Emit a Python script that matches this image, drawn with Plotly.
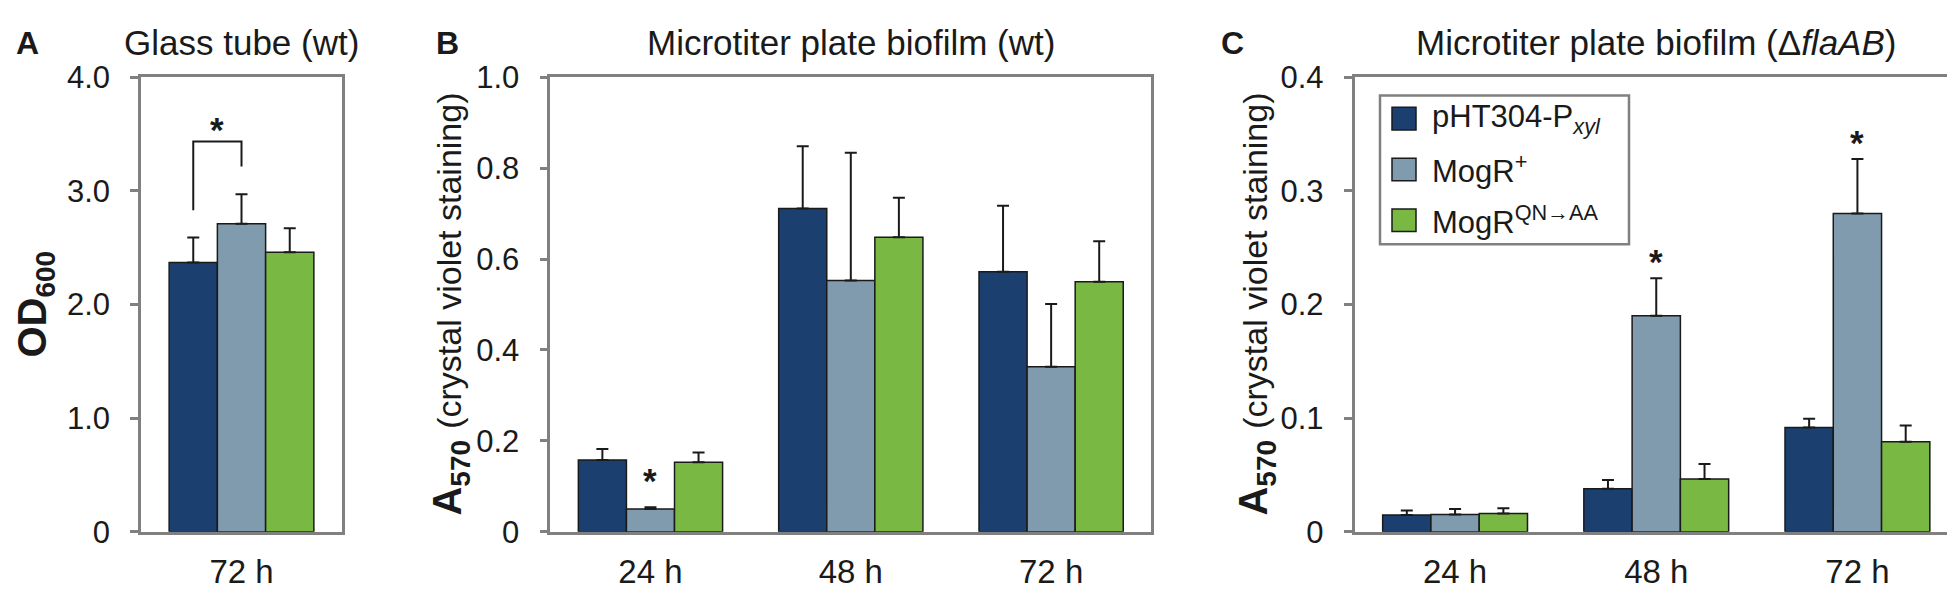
import plotly.graph_objects as go
from plotly.subplots import make_subplots

W, H = 1955, 596

strains = ["pHT304-P<sub><i>xyl</i></sub>", "MogR<sup>+</sup>", "MogR<sup>QN→AA</sup>"]
colors = ["#1B3F6F", "#7F9BAD", "#79B843"]

# panel A: glass tube (wt), 72 h only
times_a = ["72 h"]
glass_mean = [[2.37], [2.71], [2.46]]
glass_err = [[0.22], [0.26], [0.21]]

# panel B / C: microtiter plate
times = ["24 h", "48 h", "72 h"]
wt_mean = [[0.158, 0.711, 0.572], [0.050, 0.553, 0.363], [0.153, 0.648, 0.550]]
wt_err = [[0.024, 0.137, 0.145], [0.004, 0.281, 0.138], [0.021, 0.087, 0.089]]
fla_mean = [[0.0146, 0.0378, 0.0916], [0.0151, 0.190, 0.280], [0.0160, 0.0464, 0.0791]]
fla_err = [[0.0040, 0.0077, 0.0077], [0.0048, 0.033, 0.048], [0.0047, 0.0132, 0.0144]]

# significance marks
star_a = 3.60
bracket_a = [2.83, 3.435, 3.215]   # left leg bottom, top, right leg bottom
stars_b = [("24 h", 0.127)]
stars_c = [("48 h", 0.244), ("72 h", 0.349)]

y_ticks_a = [0, 1, 2, 3, 4]
y_text_a = ["0", "1.0", "2.0", "3.0", "4.0"]
y_ticks_b = [0, 0.2, 0.4, 0.6, 0.8, 1.0]
y_text_b = ["0", "0.2", "0.4", "0.6", "0.8", "1.0"]
y_ticks_c = [0, 0.1, 0.2, 0.3, 0.4]
y_text_c = ["0", "0.1", "0.2", "0.3", "0.4"]

FONT = "Liberation Sans, Arial, sans-serif"
INK = "#1a1a1a"
FRAME = "#808080"
BARGAP = 0.28


def px_x(p):
    return p / W


def px_y(p):
    return 1 - p / H


fig = make_subplots(rows=1, cols=3)

panels = [
    (1, times_a, glass_mean, glass_err),
    (2, times, wt_mean, wt_err),
    (3, times, fla_mean, fla_err),
]
for col, cats, means, errs in panels:
    for i in range(3):
        fig.add_trace(go.Bar(
            x=cats, y=means[i], name=strains[i],
            marker=dict(color=colors[i], line=dict(color=INK, width=1.5)),
            error_y=dict(type="data", symmetric=False, array=errs[i],
                         arrayminus=[0] * len(cats), color=INK, thickness=2, width=6),
            showlegend=False,
        ), row=1, col=col)

fig.update_layout(
    width=W, height=H,
    margin=dict(l=0, r=0, t=0, b=0),
    paper_bgcolor="white", plot_bgcolor="white",
    barmode="group", bargap=BARGAP, bargroupgap=0,
    font=dict(family=FONT, color=INK),
)

x_domains = [[133, 334], [542.3, 1143.3], [1346.5, 1950]]
y_dom = [px_y(538.3), px_y(55.5)]
ranges = [[0, 4], [0, 1], [0, 0.4]]
yt = [(y_ticks_a, y_text_a), (y_ticks_b, y_text_b), (y_ticks_c, y_text_c)]

for k in range(3):
    fig.update_xaxes(domain=[px_x(x_domains[k][0]), px_x(x_domains[k][1])],
                     showline=True, mirror=True, linecolor=FRAME, linewidth=2.5,
                     ticks="", showgrid=False, zeroline=False,
                     tickfont=dict(size=33, color=INK), ticklabelstandoff=9,
                     row=1, col=k + 1)
    fig.update_yaxes(domain=y_dom, range=ranges[k],
                     tickvals=yt[k][0], ticktext=yt[k][1],
                     showline=True, mirror=True, linecolor=FRAME, linewidth=2.5,
                     ticks="outside", ticklen=8, tickwidth=2.5, tickcolor=FRAME,
                     showgrid=False, zeroline=False,
                     tickfont=dict(size=31, color=INK), ticklabelstandoff=14,
                     row=1, col=k + 1)

# short inner tick stubs, so the ticks cross the left axis line
inner = {}
for k in range(3):
    base = "y" if k == 0 else f"y{k + 1}"
    inner[f"yaxis{k + 4}"] = dict(
        overlaying=base, anchor="x" if k == 0 else f"x{k + 1}", side="left",
        range=ranges[k], tickvals=yt[k][0], showticklabels=False,
        ticks="inside", ticklen=6, tickwidth=2.5, tickcolor=FRAME,
        showline=False, showgrid=False, zeroline=False)
fig.update_layout(**inner)

# bracket in A between first and second bar
bw = (1 - BARGAP) / 3
fig.add_shape(type="path", xref="x", yref="y",
              path=f"M {-bw},{bracket_a[0]} L {-bw},{bracket_a[1]} L 0,{bracket_a[1]} L 0,{bracket_a[2]}",
              line=dict(color=INK, width=2))

star_font = dict(size=35, color=INK, family=FONT)
fig.add_annotation(x=-bw / 2, y=star_a, xref="x", yref="y", text="<b>*</b>", showarrow=False,
                   font=star_font, yshift=-7)
for cat, yv in stars_b:
    fig.add_annotation(x=cat, y=yv, xref="x2", yref="y2", text="<b>*</b>", showarrow=False,
                       font=star_font, yshift=-7)
for cat, yv in stars_c:
    fig.add_annotation(x=cat, y=yv, xref="x3", yref="y3", text="<b>*</b>", showarrow=False,
                       font=star_font, yshift=-7)

# panel titles and letters
titles = ["Glass tube (wt)", "Microtiter plate biofilm (wt)",
          "Microtiter plate biofilm (Δ<i>flaAB</i>)"]
letters = ["A", "B", "C"]
letter_x = [6, 426, 1211]
for k in range(3):
    cx = (x_domains[k][0] + x_domains[k][1]) / 2
    fig.add_annotation(x=px_x(cx), y=px_y(19), xref="paper", yref="paper",
                       text=titles[k], showarrow=False, xanchor="center", yanchor="middle",
                       font=dict(size=35, color=INK))
    fig.add_annotation(x=px_x(letter_x[k]), y=px_y(19), xref="paper", yref="paper",
                       text=f"<b>{letters[k]}</b>", showarrow=False, xanchor="left",
                       yanchor="middle", font=dict(size=32, color=INK))

# y axis titles
ylab_a = "<b>OD<sub>600</sub></b>"
ylab_bc = '<b>A<sub>570</sub></b> <span style="font-size:34px">(crystal violet staining)</span>'
for xl, txt in [(0, ylab_a), (415, ylab_bc), (1221, ylab_bc)]:
    fig.add_annotation(x=px_x(xl), y=px_y(297), xref="paper", yref="paper",
                       text=txt, textangle=-90, showarrow=False,
                       xanchor="left", yanchor="middle", font=dict(size=40, color=INK))

# legend box in C
fig.add_shape(type="rect", xref="paper", yref="paper",
              x0=px_x(1372), x1=px_x(1621), y0=px_y(233), y1=px_y(75),
              line=dict(color=FRAME, width=2.5), fillcolor="white", layer="above")
row_y = [99.5, 153.5, 207.5]
for i in range(3):
    fig.add_shape(type="rect", xref="paper", yref="paper",
                  x0=px_x(1384), x1=px_x(1408), y0=px_y(row_y[i] + 12), y1=px_y(row_y[i] - 12),
                  line=dict(color=INK, width=1.5), fillcolor=colors[i], layer="above")
    fig.add_annotation(x=px_x(1422), y=px_y(row_y[i]), xref="paper", yref="paper",
                       text=strains[i], showarrow=False, xanchor="left", yanchor="middle",
                       font=dict(size=31, color=INK))

fig.write_html("out.html")
